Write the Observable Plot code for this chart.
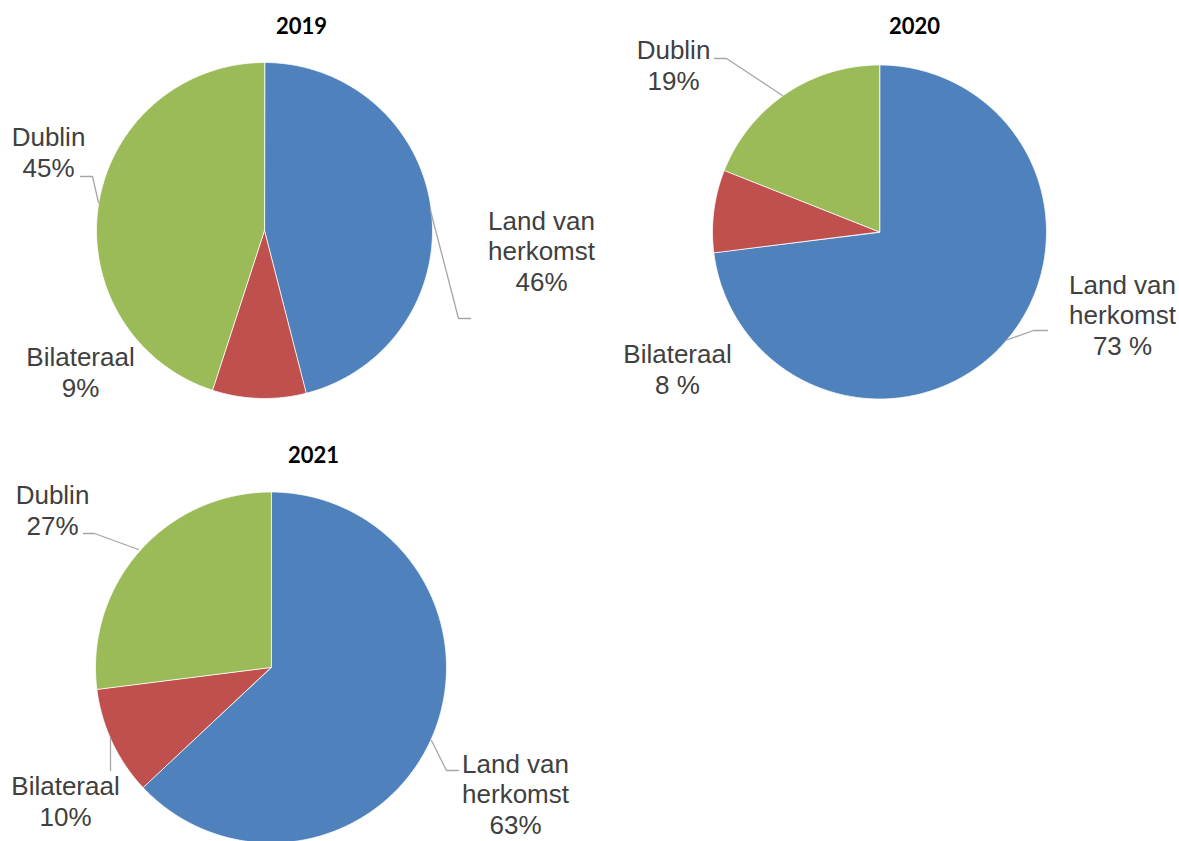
<!DOCTYPE html>
<html><head><meta charset="utf-8">
<script src="https://cdn.jsdelivr.net/npm/d3@7"></script>
<script src="https://cdn.jsdelivr.net/npm/@observablehq/plot@0.6"></script>
<style>html,body{margin:0;padding:0;background:#fff;overflow:hidden;}</style>
</head><body><div id="chart"></div>
<script>
// ---- data ----
const years = ["2019", "2020", "2021"];
const categories = ["Land van herkomst", "Bilateraal", "Dublin"];
const categoryLabels = ["Land van\nherkomst", "Bilateraal", "Dublin"];
const values2019 = [46, 9, 45];
const values2020 = [73, 8, 19];
const values2021 = [63, 10, 27];
const pctLabels2019 = ["46%", "9%", "45%"];
const pctLabels2020 = ["73 %", "8 %", "19%"];
const pctLabels2021 = ["63%", "10%", "27%"];
const colors = ["#4F81BD", "#C0504D", "#9BBB59"];

// ---- layout (pixels) ----
const W = 1179, H = 841;
const layout = {
  "2019": {cx: 264, cy: 230, r: 168, title: [301, 26],
    labels: [[541, 250], [80, 371], [48, 151]],
    leaders: [[[430, 210], [458, 318], [470, 318]], null, [[80, 176], [92, 176], [98, 202]]]},
  "2020": {cx: 879, cy: 231.5, r: 167, title: [914, 26],
    labels: [[1122, 314], [677, 368], [673, 64]],
    leaders: [[[1005, 340], [1033, 330], [1047, 330]], null, [[714, 58], [726, 58], [782, 95]]]},
  "2021": {cx: 270.5, cy: 667, r: 175.5, title: [313, 455],
    labels: [[515, 793], [65, 800], [52, 509]],
    leaders: [[[431, 740], [446, 770], [458, 770]], [[110, 770], [110, 737]], [[83, 533], [94, 533], [138, 549]]]}
};

const seriesByYear = {"2019": values2019, "2020": values2020, "2021": values2021};
const pctByYear = {"2019": pctLabels2019, "2020": pctLabels2020, "2021": pctLabels2021};

const pie = d3.pie().sort(null).startAngle(0).endAngle(2 * Math.PI);
const slicePts = [], labelRows = [], titleRows = [], leaderPts = [];
for (const yr of years) {
  const L = layout[yr];
  const arcs = pie(seriesByYear[yr]);
  arcs.forEach((a, i) => {
    const key = yr + "-" + i;
    slicePts.push({key, cat: categories[i], x: L.cx, y: L.cy});
    const n = Math.max(2, Math.ceil((a.endAngle - a.startAngle) / (Math.PI / 360)));
    for (let k = 0; k <= n; k++) {
      const t = a.startAngle + (a.endAngle - a.startAngle) * k / n;
      slicePts.push({key, cat: categories[i], x: L.cx + L.r * Math.sin(t), y: L.cy - L.r * Math.cos(t)});
    }
    labelRows.push({x: L.labels[i][0], y: L.labels[i][1], text: categoryLabels[i] + "\n" + pctByYear[yr][i]});
    const ld = L.leaders[i];
    if (ld) ld.forEach(p => leaderPts.push({id: key, x: p[0], y: p[1]}));
  });
  titleRows.push({x: L.title[0], y: L.title[1], text: yr});
}

const chart = Plot.plot({
  width: W, height: H, margin: 0,
  x: {domain: [0, W], range: [0, W], axis: null},
  y: {domain: [0, H], range: [0, H], axis: null},
  color: {domain: categories, range: colors},
  style: {background: "white"},
  marks: [
    Plot.line(slicePts, {x: "x", y: "y", z: "key", fill: "cat", stroke: "white", strokeWidth: 0.8, curve: "linear-closed"}),
    Plot.line(leaderPts, {x: "x", y: "y", z: "id", stroke: "#A6A6A6", strokeWidth: 1.3}),
    Plot.text(labelRows, {x: "x", y: "y", text: "text", fontSize: 26, lineHeight: 1.18, fill: "#404040",
      fontFamily: "'Liberation Sans', Arial, sans-serif", textAnchor: "middle", lineAnchor: "middle"}),
    Plot.text(titleRows, {x: "x", y: "y", text: "text", fontSize: 22, fontWeight: "bold", fill: "black",
      fontFamily: "Lato, 'Open Sans', sans-serif", textAnchor: "middle", lineAnchor: "middle"})
  ]
});
document.getElementById("chart").appendChild(chart);
</script>
</body></html>
